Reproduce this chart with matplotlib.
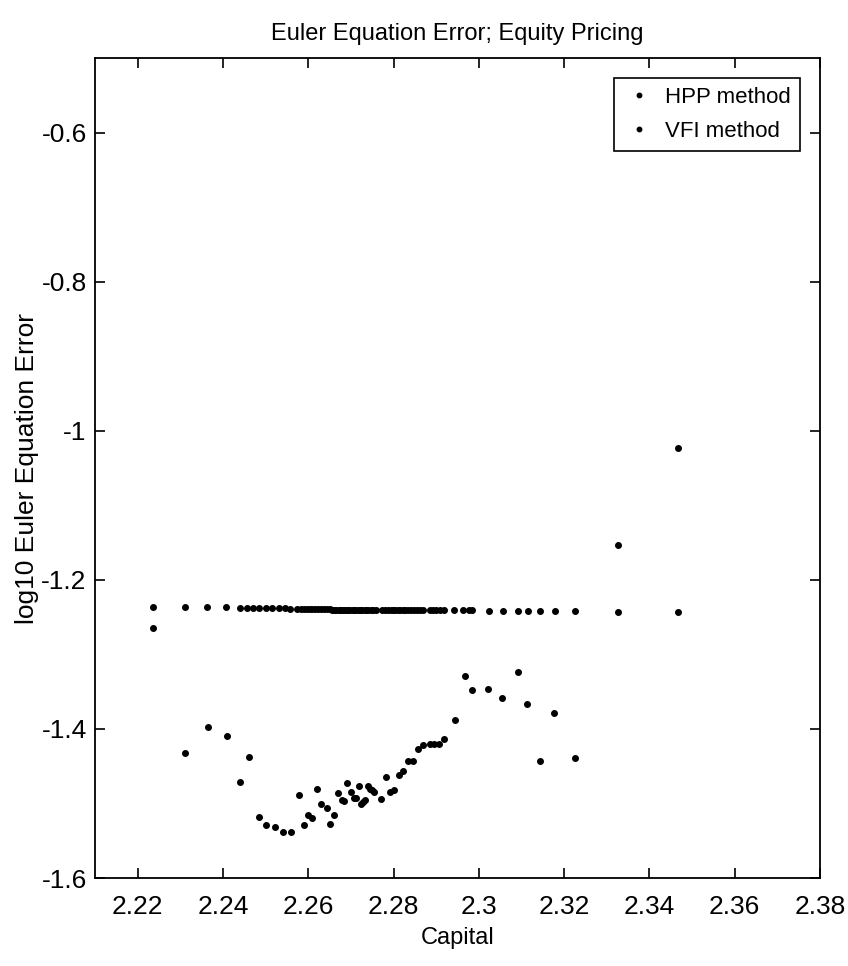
#-*- coding: utf-8 -*-

"""
  Euler equation error, equity pricing: HPP vs VFI
"""

import matplotlib
matplotlib.use('Agg')
import matplotlib.pyplot as plt


# Capital grid and errors of the VFI method (flat row near -1.24)
k_vfi = [2.2235, 2.2312, 2.2363, 2.2408, 2.2441, 2.2457, 2.2471, 2.2485, 2.2501,
         2.2516, 2.2531, 2.2545, 2.2558, 2.2574, 2.2582, 2.2589, 2.2596, 2.2603,
         2.2610, 2.2617, 2.2624, 2.2631, 2.2638, 2.2644, 2.2650, 2.2655, 2.2661,
         2.2666, 2.2671, 2.2675, 2.2680, 2.2685, 2.2689, 2.2694, 2.2699, 2.2704,
         2.2708, 2.2713, 2.2718, 2.2722, 2.2727, 2.2732, 2.2736, 2.2741, 2.2747,
         2.2753, 2.2760, 2.2773, 2.2781, 2.2786, 2.2793, 2.2798, 2.2804, 2.2810,
         2.2816, 2.2822, 2.2828, 2.2835, 2.2841, 2.2847, 2.2855, 2.2863, 2.2869,
         2.2885, 2.2893, 2.2900, 2.2910, 2.2918, 2.2941, 2.2964, 2.2976, 2.2984,
         2.3023, 2.3056, 2.3092, 2.3115, 2.3144, 2.3178, 2.3226, 2.3327, 2.3466]
e_vfi = [-1.236, -1.237, -1.237, -1.237, -1.238, -1.238, -1.238, -1.238, -1.238,
         -1.238, -1.238, -1.238, -1.239, -1.239, -1.239, -1.239, -1.239, -1.239,
         -1.239, -1.239, -1.239, -1.239, -1.239, -1.239, -1.239, -1.240, -1.240,
         -1.240, -1.240, -1.240, -1.240, -1.240, -1.240, -1.240, -1.240, -1.240,
         -1.240, -1.240, -1.240, -1.240, -1.240, -1.240, -1.240, -1.240, -1.240,
         -1.240, -1.240, -1.240, -1.240, -1.240, -1.240, -1.240, -1.240, -1.240,
         -1.241, -1.241, -1.241, -1.241, -1.241, -1.241, -1.241, -1.241, -1.241,
         -1.241, -1.241, -1.241, -1.241, -1.241, -1.241, -1.241, -1.241, -1.241,
         -1.242, -1.242, -1.242, -1.242, -1.242, -1.242, -1.242, -1.243, -1.243]

# Capital and errors of the HPP method
k_hpp = [2.2235, 2.2312, 2.2364, 2.2409, 2.2441, 2.2462, 2.2484, 2.2501, 2.2521,
         2.2540, 2.2559, 2.2578, 2.2590, 2.2599, 2.2609, 2.2620, 2.2631, 2.2643,
         2.2652, 2.2660, 2.2669, 2.2679, 2.2685, 2.2692, 2.2700, 2.2708, 2.2713,
         2.2718, 2.2724, 2.2729, 2.2734, 2.2740, 2.2746, 2.2750, 2.2755, 2.2771,
         2.2783, 2.2791, 2.2800, 2.2812, 2.2822, 2.2835, 2.2845, 2.2858, 2.2868,
         2.2885, 2.2894, 2.2907, 2.2919, 2.2945, 2.2967, 2.2983, 2.3022, 2.3055,
         2.3092, 2.3113, 2.3143, 2.3177, 2.3226, 2.3327, 2.3466]
e_hpp = [-1.265, -1.432, -1.398, -1.409, -1.471, -1.438, -1.518, -1.529, -1.531,
         -1.538, -1.538, -1.489, -1.529, -1.515, -1.520, -1.480, -1.501, -1.506,
         -1.528, -1.516, -1.486, -1.495, -1.496, -1.473, -1.485, -1.492, -1.493,
         -1.477, -1.500, -1.498, -1.495, -1.477, -1.480, -1.482, -1.485, -1.494,
         -1.464, -1.484, -1.482, -1.462, -1.456, -1.443, -1.443, -1.427, -1.422,
         -1.420, -1.420, -1.420, -1.413, -1.388, -1.329, -1.348, -1.346, -1.358,
         -1.324, -1.366, -1.443, -1.378, -1.439, -1.153, -1.023]

xticks = [2.22, 2.24, 2.26, 2.28, 2.3, 2.32, 2.34, 2.36, 2.38]
xticklabels = ['2.22', '2.24', '2.26', '2.28', '2.3', '2.32', '2.34', '2.36', '2.38']
yticks = [-1.6, -1.4, -1.2, -1, -0.8, -0.6]
yticklabels = ['-1.6', '-1.4', '-1.2', '-1', '-0.8', '-0.6']

fam = ['Liberation Sans', 'DejaVu Sans']

fig = plt.figure(figsize=(8.48, 9.66), dpi=100)
ax = fig.add_axes([0.112, 0.091, 0.855, 0.849])

ax.plot(k_hpp, e_hpp, 'o', color='black', markersize=4, label='HPP method')
ax.plot(k_vfi, e_vfi, 'o', color='black', markersize=4, label='VFI method')

ax.set_xlim(2.21, 2.38)
ax.set_ylim(-1.6, -0.5)
ax.set_xticks(xticks)
ax.set_xticklabels(xticklabels, family=fam, fontsize=19)
ax.set_yticks(yticks)
ax.set_yticklabels(yticklabels, family=fam, fontsize=19)
ax.tick_params(axis='x', pad=12)
ax.tick_params(axis='y', pad=6)
ax.tick_params(direction='in', top=True, right=True, length=7, width=1.2)
for s in ax.spines.values():
	s.set_linewidth(1.3)

ax.set_title('Euler Equation Error; Equity Pricing', family=fam, fontsize=17, pad=13)
ax.set_xlabel('Capital', family=fam, fontsize=17, labelpad=6)
ax.set_ylabel('log10 Euler Equation Error', family=fam, fontsize=19)
ax.yaxis.set_label_coords(-0.077, 0.5)

leg = ax.legend(loc='upper right', prop={'family': fam, 'size': 16},
	fancybox=False, edgecolor='black', framealpha=1, handletextpad=0.5,
	markerscale=0.8, borderaxespad=0.9, handlelength=1.4, labelspacing=0.6)
leg.get_frame().set_linewidth(1.2)

plt.savefig('out.png', dpi=100)
